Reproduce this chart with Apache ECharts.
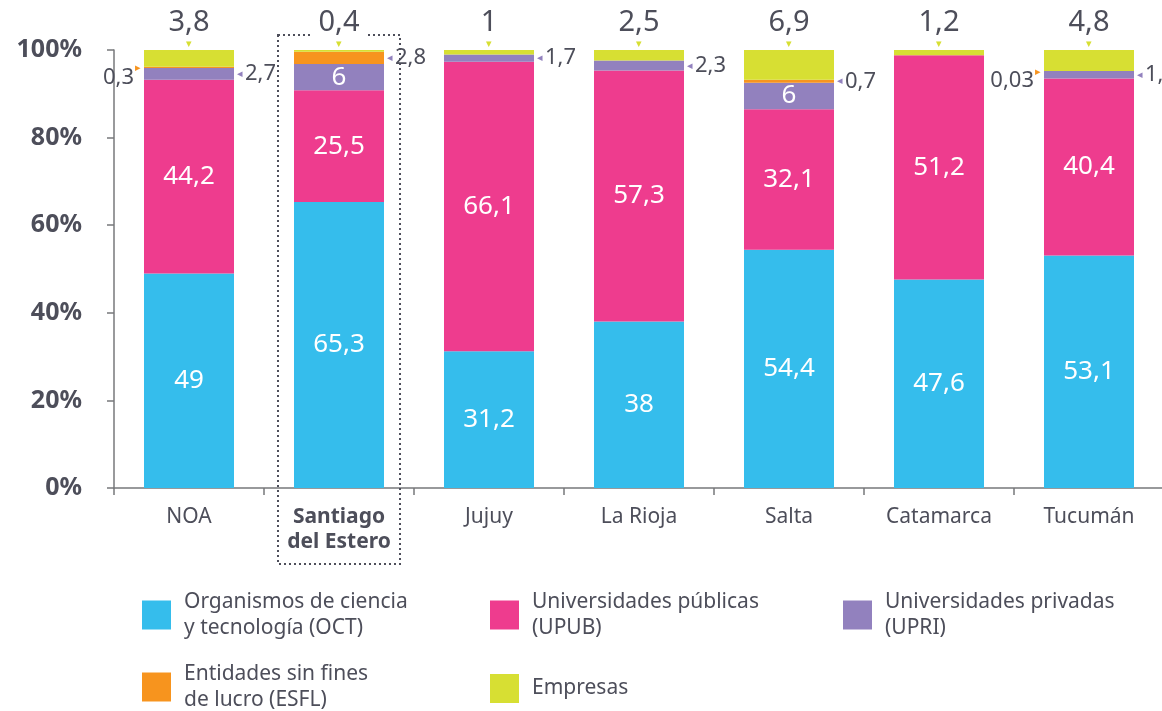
<!DOCTYPE html>
<html>
<head>
<meta charset="UTF-8">
<title></title>
<style>
  html, body { margin: 0; padding: 0; background: #fff; }
  #chart { width: 1162px; height: 711px; }
</style>
<script src="https://cdn.jsdelivr.net/npm/echarts@6/dist/echarts.min.js"></script>
</head>
<body>
<div id="chart"></div>
<script>
var categorias = ['NOA', 'Santiago del Estero', 'Jujuy', 'La Rioja', 'Salta', 'Catamarca', 'Tucumán'];
var oct = [49, 65.3, 31.2, 38, 54.4, 47.6, 53.1];
var upub = [44.2, 25.5, 66.1, 57.3, 32.1, 51.2, 40.4];
var upri = [2.7, 6, 1.7, 2.3, 6, 0, 1.7];
var esfl = [0.3, 2.8, 0, 0, 0.7, 0, 0.03];
var empresas = [3.8, 0.4, 1, 2.5, 6.9, 1.2, 4.8];
var nombres = ['OCT', 'UPUB', 'UPRI', 'ESFL', 'Empresas'];
var leyendas = [
  'Organismos de ciencia\ny tecnología (OCT)',
  'Universidades públicas\n(UPUB)',
  'Universidades privadas\n(UPRI)',
  'Entidades sin fines\nde lucro (ESFL)',
  'Empresas'
];
var destacado = 'Santiago del Estero';

var colores = ['#35bdec', '#ee3c8e', '#9281be', '#f7941e', '#d7df33'];
var gris = '#4d4e5a';
var fuente = 'Noto Sans';

function coma(v) { return String(v).replace('.', ','); }

var dentro = {
  show: true, position: 'inside', color: '#fff', fontSize: 26, fontFamily: fuente,
  formatter: function (p) { return coma(p.value); }
};

function ladoDer(v) {
  return {
    show: true, position: 'right', distance: 3,
    formatter: '{a|◂}{v|' + coma(v) + '}',
    rich: {
      a: { color: colores[2], fontSize: 11, padding: [0, 2, 0, 0] },
      v: { color: gris, fontSize: 22, fontFamily: fuente }
    }
  };
}
function ladoIzq(v) {
  return {
    show: true, position: 'left', distance: 3, offset: [0, 10],
    formatter: '{v|' + coma(v) + '}{a|▸}',
    rich: {
      a: { color: colores[3], fontSize: 11, padding: [0, 0, 18, 1] },
      v: { color: gris, fontSize: 22, fontFamily: fuente }
    }
  };
}

function datos(arr, fn) {
  return arr.map(function (v, i) { return { value: v, label: fn(v, i) }; });
}

var serieOct = datos(oct, function () { return dentro; });
var serieUpub = datos(upub, function () { return dentro; });
var serieUpri = datos(upri, function (v) {
  if (v >= 5) return dentro;
  if (v > 0) return ladoDer(v);
  return { show: false };
});
var serieEsfl = datos(esfl, function (v, i) {
  if (v <= 0) return { show: false };
  if (upri[i] > 0 && upri[i] < 5) return ladoIzq(v);
  return ladoDer(v);
});
var serieEmp = datos(empresas, function (v, i) {
  return {
    show: true, position: 'top', distance: 1,
    formatter: '{v|' + coma(v) + '}\n{a|▾}',
    backgroundColor: categorias[i] === destacado ? '#fff' : 'transparent',
    padding: [0, 8, 0, 8],
    rich: {
      v: { color: gris, fontSize: 29, fontFamily: fuente, lineHeight: 31, align: 'center' },
      a: { color: colores[4], fontSize: 11, lineHeight: 11, align: 'center' }
    }
  };
});

var valores = [serieOct, serieUpub, serieUpri, serieEsfl, serieEmp];

var leyendaPos = [[142, 589], [490, 589], [843, 589], [142, 661], [490, 674]];

var mychart = echarts.init(document.getElementById('chart'));
mychart.setOption({
  animation: false,
  textStyle: { fontFamily: fuente },
  grid: { left: 114, top: 50, width: 1050, height: 438, containLabel: false, outerBoundsMode: 'none' },
  legend: nombres.map(function (n, i) {
    return {
      data: [n],
      left: leyendaPos[i][0],
      top: leyendaPos[i][1],
      padding: 0,
      icon: 'rect',
      itemWidth: 29,
      itemHeight: 29,
      selectedMode: false,
      formatter: function () { return leyendas[i]; },
      textStyle: { color: gris, fontSize: 21, lineHeight: 26, fontFamily: fuente, padding: [0, 0, 0, 8] }
    };
  }),
  xAxis: {
    type: 'category',
    data: categorias,
    axisLine: { lineStyle: { color: '#77787b', width: 1.5 } },
    axisTick: { show: true, length: 7, interval: 0, lineStyle: { color: '#77787b', width: 1.5 } },
    axisLabel: {
      interval: 0, margin: 17, color: gris, fontSize: 21, lineHeight: 25, fontFamily: fuente,
      formatter: function (v) {
        if (v === destacado) return '{b|Santiago}\n{b|del Estero}';
        return v;
      },
      rich: { b: { fontWeight: 'bold', fontSize: 21, lineHeight: 25, color: gris, fontFamily: fuente } }
    }
  },
  yAxis: {
    type: 'value',
    min: 0, max: 100, interval: 20,
    axisLine: { show: true, lineStyle: { color: '#77787b', width: 1.5 } },
    axisTick: { show: true, length: 7, lineStyle: { color: '#77787b', width: 1.5 } },
    splitLine: { show: false },
    axisLabel: { formatter: '{value}%', color: gris, fontSize: 25, fontWeight: 'bold', margin: 32, fontFamily: fuente }
  },
  series: nombres.map(function (n, i) {
    return {
      type: 'bar',
      name: n,
      stack: 'total',
      barWidth: '60%',
      z: 3,
      itemStyle: { color: colores[i] },
      data: valores[i]
    };
  })
});

// recuadro punteado alrededor de Santiago del Estero
var cx = mychart.convertToPixel({ xAxisIndex: 0 }, destacado);
var yTop = mychart.convertToPixel({ yAxisIndex: 0 }, 100);
mychart.setOption({
  graphic: [{
    type: 'rect',
    z: 1,
    shape: { x: cx - 61, y: yTop - 15, width: 122, height: 529 },
    style: { fill: 'none', stroke: gris, lineWidth: 2, lineDash: [2, 3] }
  }]
});
</script>
</body>
</html>
